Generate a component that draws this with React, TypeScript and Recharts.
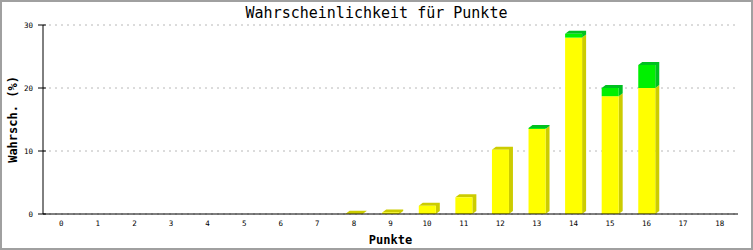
import React from 'react';
import { BarChart, Bar, XAxis, YAxis, CartesianGrid } from 'recharts';

const categories = ['0', '1', '2', '3', '4', '5', '6', '7', '8', '9', '10', '11', '12', '13', '14', '15', '16', '17', '18'];
const yellowValues = [0, 0, 0, 0, 0, 0, 0, 0, 0.05, 0.25, 1.3, 2.65, 10.2, 13.5, 28.0, 18.7, 20.0, 0, 0];
const greenValues = [0, 0, 0, 0, 0, 0, 0, 0, 0, 0, 0, 0, 0, 0.15, 0.6, 1.3, 3.65, 0, 0];
const yTicks = [0, 10, 20, 30];

const data = categories.map((c, i) => ({ name: c, yellow: yellowValues[i], green: greenValues[i] }));

const DX = 4;
const DY = 3;
const MONO = '"DejaVu Sans Mono", "Liberation Mono", monospace';

function drawBar(x: number, y: number, w: number, h: number, front: string, shade: string, withCap: boolean) {
  const side = withCap
    ? `${x},${y} ${x + DX},${y - DY} ${x + w + DX},${y - DY} ${x + w + DX},${y + h - DY} ${x + w},${y + h} ${x + w},${y}`
    : `${x + w},${y} ${x + w + DX},${y - DY} ${x + w + DX},${y + h - DY} ${x + w},${y + h}`;
  return (
    <g>
      <polygon points={side} fill={shade} />
      <rect x={x} y={y} width={w} height={Math.max(h, 0)} fill={front} />
    </g>
  );
}

function YellowShape(props: any) {
  const { x, y, width, height, index } = props;
  const v = yellowValues[index];
  if (!v) return <g />;
  const top = !(greenValues[index] > 0);
  return drawBar(x, y, width, height, '#ffff00', '#cccc00', top);
}

function GreenShape(props: any) {
  const { x, y, width, height, index } = props;
  const v = greenValues[index];
  if (!v) return <g />;
  return drawBar(x, y, width, height, '#00f000', '#00c020', true);
}

function YTick(props: any) {
  const { x, y, payload } = props;
  return (
    <g>
      <line x1={x + 5} x2={x + 13} y1={y} y2={y} stroke="#000" />
      <text x={x} y={y} textAnchor="end" dominantBaseline="central" fontFamily={MONO} fontSize={7.5} fill="#000">
        {payload.value}
      </text>
    </g>
  );
}

function XTick(props: any) {
  const { x, y, payload } = props;
  return (
    <text x={x} y={y} textAnchor="middle" dominantBaseline="central" fontFamily={MONO} fontSize={7.5} fill="#000">
      {payload.value}
    </text>
  );
}

export default function App() {
  return (
    <div style={{ position: 'absolute', left: 0, top: 0, width: 753, height: 250, boxSizing: 'border-box', border: '2px solid #a0a0a0', background: '#fff' }}>
      <div style={{ position: 'absolute', left: -2, top: 3, width: 753, textAlign: 'center', fontFamily: MONO, fontSize: 15, lineHeight: '16px', color: '#000' }}>
        Wahrscheinlichkeit für Punkte
      </div>
      <BarChart width={749} height={246} data={data} margin={{ top: 23, right: 13, bottom: 0, left: 0 }} barSize={17}>
        <CartesianGrid vertical={false} stroke="#b8b8b8" strokeDasharray="2 4" />
        <XAxis
          dataKey="name"
          height={34}
          tickLine={false}
          axisLine={{ stroke: '#000' }}
          interval={0}
          tick={(p: any) => <XTick {...p} y={p.y - 2 + 9 - 7} />}
          tickSize={0}
          tickMargin={9}
          label={{
            content: (lp: any) => {
              const vb = lp.viewBox;
              return (
                <text x={vb.x + vb.width / 2} y={vb.y + 26} textAnchor="middle" dominantBaseline="central" fontFamily={MONO} fontSize={12} fontWeight="bold" fill="#000">
                  Punkte
                </text>
              );
            },
          }}
        />
        <YAxis
          width={41}
          domain={[0, 30]}
          ticks={yTicks}
          tickLine={false}
          tickSize={5}
          tickMargin={5}
          axisLine={{ stroke: '#000' }}
          tick={YTick}
          label={{
            content: (lp: any) => {
              const vb = lp.viewBox;
              const cx = 11;
              const cy = vb.y + vb.height / 2;
              return (
                <text x={cx} y={cy} transform={`rotate(-90 ${cx} ${cy})`} textAnchor="middle" dominantBaseline="central" fontFamily={MONO} fontSize={12} fontWeight="bold" fill="#000">
                  Wahrsch. (%)
                </text>
              );
            },
          }}
        />
        <YAxis yAxisId="r" orientation="right" width={0} domain={[0, 30]} tick={false} tickLine={false} axisLine={{ stroke: '#000' }} />
        <Bar dataKey="yellow" stackId="a" isAnimationActive={false} shape={YellowShape} />
        <Bar dataKey="green" stackId="a" isAnimationActive={false} shape={GreenShape} />
      </BarChart>
    </div>
  );
}
